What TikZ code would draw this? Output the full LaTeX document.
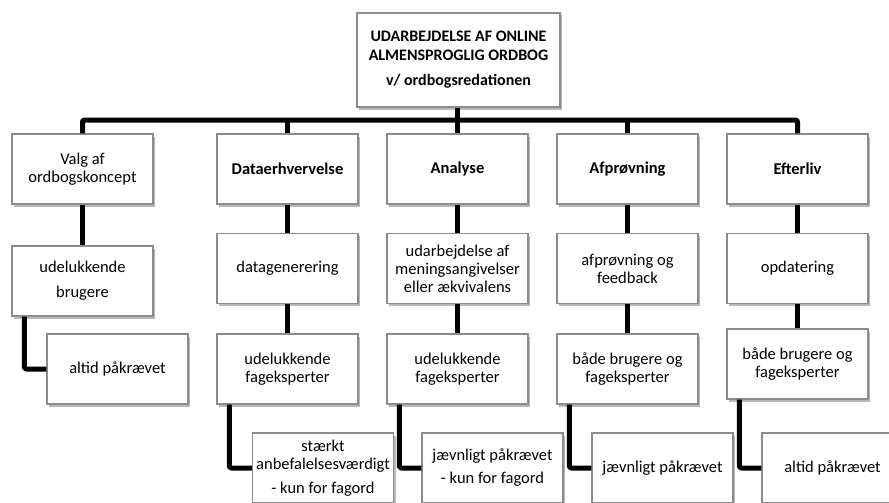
\documentclass[tikz,border=0pt]{standalone}
\usepackage{fontspec}
\setmainfont{Carlito}
\usetikzlibrary{shadows}
\begin{document}
\begin{tikzpicture}[x=1pt,y=-1pt,
  box/.style={draw=black!45, line width=1.3pt, fill=white, align=center,
    minimum width=141pt, minimum height=70pt, inner sep=1pt,
    font=\fontsize{16.5}{18}\selectfont,
    drop shadow={shadow xshift=2pt, shadow yshift=-2.5pt, fill=black, opacity=0.28}},
  boldbox/.style={box, font=\fontsize{16.5}{18}\selectfont\bfseries},
  conn/.style={line width=5pt, line join=round, rounded corners=2pt}]
\clip (0,0) rectangle (889,503);
\fill[white] (0,0) rectangle (889,503);
% top
\node[box, minimum width=203pt, minimum height=94pt, font=\fontsize{16}{19}\selectfont\bfseries] (top) at (458.5,60)
  {UDARBEJDELSE AF ONLINE\\ALMENSPROGLIG ORDBOG\\[6pt]v/ ordbogsredationen};
% level 1
\node[box] (a1) at (82.5,169) {Valg af\\ordbogskoncept};
\node[boldbox] (a2) at (287.5,169) {Dataerhvervelse};
\node[boldbox] (a3) at (457.5,169) {Analyse};
\node[boldbox] (a4) at (627.5,169) {Afprøvning};
\node[boldbox] (a5) at (797.5,169) {Efterliv};
% level 2
\node[box] (b1) at (82.5,281) {udelukkende\\[7pt]brugere};
\node[box] (b2) at (287.5,268.5) {datagenerering};
\node[box] (b3) at (457.5,268.5) {udarbejdelse af\\meningsangivelser\\eller ækvivalens};
\node[box] (b4) at (627.5,268.5) {afprøvning og\\feedback};
\node[box] (b5) at (797.5,268.5) {opdatering};
% level 3
\node[box] (c1) at (117.5,369) {altid påkrævet};
\node[box] (c2) at (287.5,369) {udelukkende\\fageksperter};
\node[box] (c3) at (457.5,369) {udelukkende\\fageksperter};
\node[box] (c4) at (627.5,369) {både brugere og\\fageksperter};
\node[box] (c5) at (797.5,364) {både brugere og\\fageksperter};
% level 4
\node[box] (d2) at (323,468) {stærkt\\anbefalelsesværdigt\\[6pt]- kun for fagord};
\node[box] (d3) at (492.5,468) {jævnligt påkrævet\\[5pt]- kun for fagord};
\node[box] (d4) at (662.5,468) {jævnligt påkrævet};
\node[box] (d5) at (832.5,468) {altid påkrævet};
% connectors
\coordinate (bus) at (457.5,120);
\draw[conn] (a1.north) |- (bus) -| (a5.north);
\draw[conn] (a3.north |- top.south) -- (a3.north);
\draw[conn] (a2.north |- bus) -- (a2.north);
\draw[conn] (a4.north |- bus) -- (a4.north);
\foreach \i in {1,...,5}{\draw[conn] (a\i.south) -- (b\i.north);}
\foreach \i in {2,...,5}{\draw[conn] (b\i.south) -- (c\i.north);}
\draw[conn] ([xshift=13pt]b1.south west) |- (c1.west);
\foreach \i in {2,...,5}{\draw[conn] ([xshift=13pt]c\i.south west) |- (d\i.west);}
\end{tikzpicture}
\end{document}
